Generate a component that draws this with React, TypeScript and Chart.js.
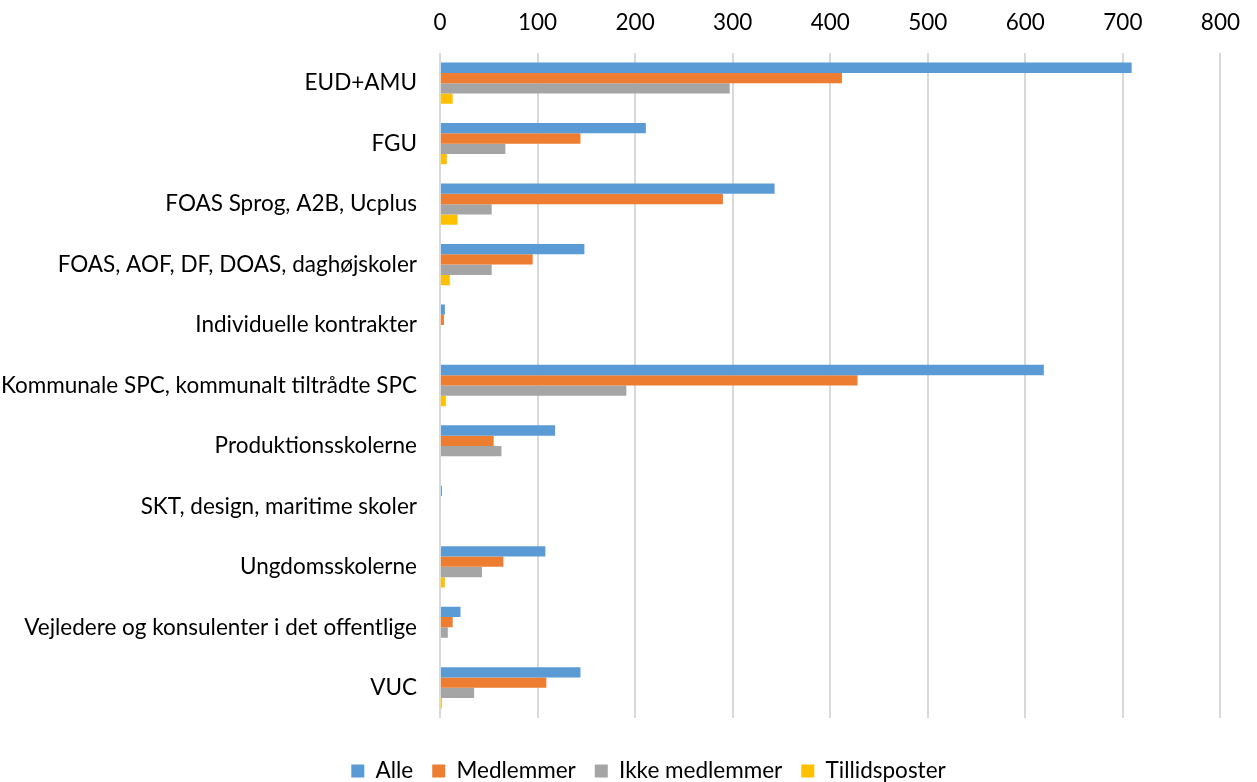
import React, { useEffect, useRef } from "react";
import { Chart, registerables } from "chart.js";

Chart.register(...registerables);

const categories = [
  "EUD+AMU",
  "FGU",
  "FOAS Sprog, A2B, Ucplus",
  "FOAS, AOF, DF, DOAS, daghøjskoler",
  "Individuelle kontrakter",
  "Kommunale SPC, kommunalt tiltrådte SPC",
  "Produktionsskolerne",
  "SKT, design, maritime skoler",
  "Ungdomsskolerne",
  "Vejledere og konsulenter i det offentlige",
  "VUC",
];

const alle = [709, 211, 343, 148, 5, 619, 118, 2, 108, 21, 144];
const medlemmer = [412, 144, 290, 95, 4, 428, 55, 1, 65, 13, 109];
const ikkeMedlemmer = [297, 67, 53, 53, 1, 191, 63, 1, 43, 8, 35];
const tillidsposter = [13, 7, 18, 10, 0, 6, 1, 0, 5, 0, 2];

const xMin = 0;
const xMax = 800;
const xStep = 100;

const FONT = "Lato, 'Open Sans', sans-serif";
const FS = 22.5;

const legendShift = {
  id: "legendShift",
  afterLayout(chart: any) {
    const lg = chart.legend;
    if (lg) {
      lg.left += 34;
      lg.right += 34;
    }
  },
};

export default function App() {
  const ref = useRef<HTMLCanvasElement | null>(null);

  useEffect(() => {
    if (!ref.current) return;
    const chart = new Chart(ref.current, {
      type: "bar",
      data: {
        labels: categories,
        datasets: [
          { label: "Alle", data: alle, backgroundColor: "#5b9bd5" },
          { label: "Medlemmer", data: medlemmer, backgroundColor: "#ed7d31" },
          { label: "Ikke medlemmer", data: ikkeMedlemmer, backgroundColor: "#a5a5a5" },
          { label: "Tillidsposter", data: tillidsposter, backgroundColor: "#ffc000" },
        ],
      },
      options: {
        indexAxis: "y",
        animation: false,
        responsive: false,
        devicePixelRatio: 1,
        datasets: {
          bar: { categoryPercentage: 0.683, barPercentage: 1, borderWidth: 0 },
        },
        layout: { padding: { left: 0, right: 28, top: 0, bottom: -10.25 } },
        scales: {
          x: {
            position: "top",
            min: xMin,
            max: xMax,
            ticks: {
              stepSize: xStep,
              color: "#000",
              font: { family: FONT, size: FS },
              padding: 17,
            },
            grid: { color: "#d9d9d9", lineWidth: 2, drawTicks: false },
            border: { display: false },
            afterFit: (scale: any) => {
              scale.height = 53;
            },
          },
          y: {
            ticks: {
              color: "#000",
              font: { family: FONT, size: FS },
              padding: 23,
              autoSkip: false,
            },
            grid: { display: false, drawTicks: false },
            border: { display: false },
            afterFit: (scale: any) => {
              scale.width = 440;
            },
          },
        },
        plugins: {
          legend: {
            position: "bottom",
            title: { display: true, text: " ", font: { size: 1 }, padding: { top: 21.55, bottom: 0 } },
            labels: {
              boxWidth: 13,
              boxHeight: 13,
              padding: 19,
              color: "#000",
              font: { family: FONT, size: FS },
            },
          },
          tooltip: { enabled: false },
        },
      },
      plugins: [legendShift],
    });
    return () => chart.destroy();
  }, []);

  return (
    <div style={{ position: "fixed", left: 0, top: 0, width: 1257, height: 782, background: "#fff" }}>
      <canvas ref={ref} width={1257} height={782} style={{ width: 1257, height: 782, display: "block" }} />
    </div>
  );
}
